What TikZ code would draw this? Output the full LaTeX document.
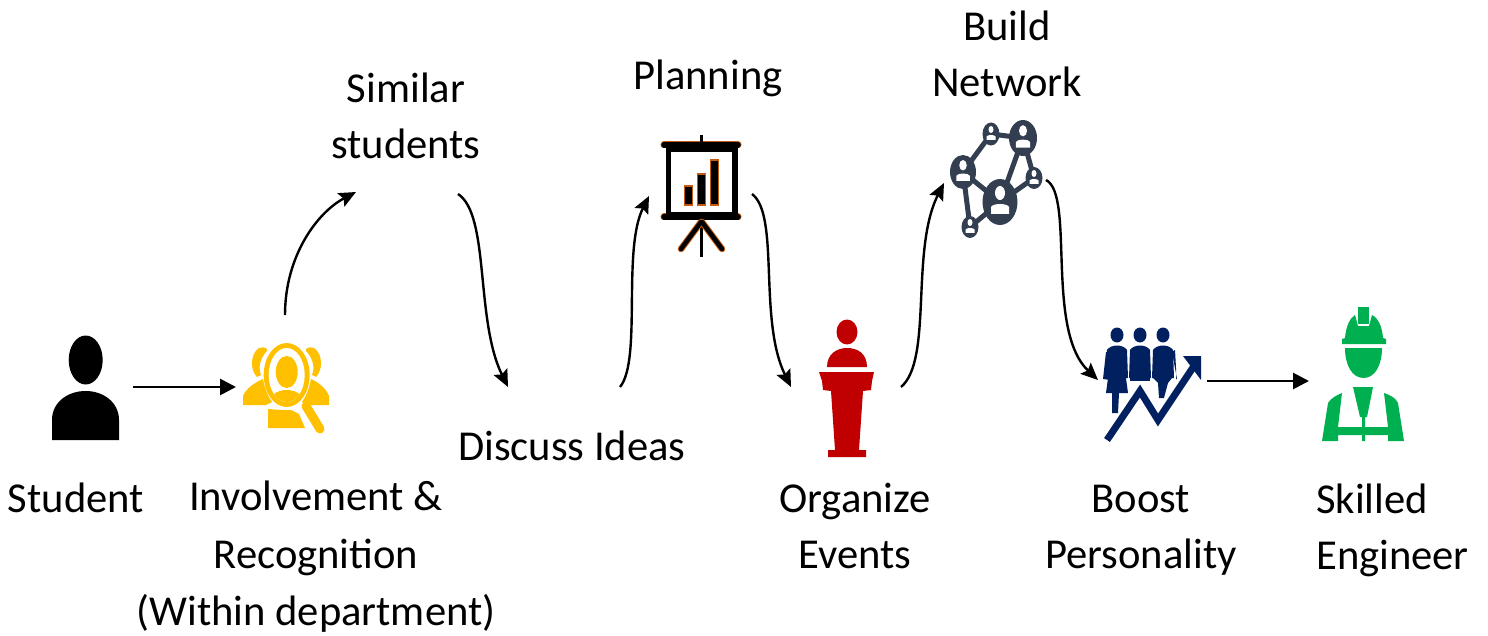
\documentclass[tikz,border=0pt]{standalone}
\usepackage{fontspec}
\setmainfont{Carlito}
\usetikzlibrary{arrows.meta}
\definecolor{gold}{HTML}{FFC000}
\definecolor{slatenet}{HTML}{333F50}
\definecolor{podium}{HTML}{C00000}
\definecolor{navyp}{HTML}{002060}
\definecolor{greenw}{HTML}{00B050}
\definecolor{orangeb}{HTML}{C55A11}
\tikzset{
 lbl/.style={font=\fontsize{42.6}{56}\selectfont,align=center,inner sep=0pt,text=black},
 lblwide/.style={font=\fontsize{42.6}{57.5}\selectfont,align=center,inner sep=0pt,text=black},
 lblleft/.style={font=\fontsize{42.6}{56}\selectfont,align=left,inner sep=0pt,text=black},
 conn/.style={line width=2.8pt,draw=black,-{Triangle[length=16pt,width=16pt]}},
 curv/.style={line width=2.4pt,draw=black,-{Stealth[length=17pt,width=15pt,inset=3pt]}},
}
\begin{document}
\begin{tikzpicture}[x=1pt,y=-1pt]
\useasboundingbox (0,0) rectangle (1488,636);
% labels
\node[lbl] (tStudent) at (76,498) {Student};
\node[lblwide] (tInv) at (316,557) {Involvement \&\\Recognition\\(Within department)};
\node[lbl] (tSim) at (406,116) {Similar\\students};
\node[lbl] (tDisc) at (572,446) {Discuss Ideas};
\node[lbl] (tPlan) at (708,78) {Planning};
\node[lbl] (tBuild) at (1007,54) {Build\\Network};
\node[lbl] (tOrg) at (855,526) {Organize\\Events};
\node[lbl] (tBoost) at (1141,530) {Boost\\Personality};
\node[lblleft,anchor=west] (tSkill) at (1316,530) {Skilled\\Engineer};
% student icon
\fill[black] (85.7,360) ellipse [x radius=17,y radius=24.5];
\fill[black] (52,440) -- (52,420) .. controls (52,402) and (68,391) .. (85.7,391) .. controls (103,391) and (119,402) .. (119,420) -- (119,440) -- cycle;
% search icon
\begin{scope}[gold]
\fill (259,348) .. controls (265,346) and (268,349) .. (267,351) .. controls (260,358) and (258,368) .. (261,375) -- (257,377) .. controls (250,370) and (250,354) .. (259,348) -- cycle;
\fill (314,348) .. controls (308,346) and (305,349) .. (306,351) .. controls (313,358) and (315,368) .. (312,375) -- (316,377) .. controls (323,370) and (323,354) .. (314,348) -- cycle;
\fill (243,405) -- (243,396) .. controls (246,388) and (256,382) .. (263,379) .. controls (265,390) and (268,396) .. (272,402) -- (266,405) -- cycle;
\fill (329,405) -- (329,396) .. controls (326,388) and (318,382) .. (311,379) .. controls (309,390) and (306,396) .. (302,402) -- (305,405) -- cycle;
\fill (286.7,375) ellipse [x radius=23,y radius=32];
\fill[white] (286.7,375) ellipse [x radius=18,y radius=27];
\fill (286.7,372) ellipse [x radius=11,y radius=16];
\begin{scope}
\clip (286.7,375) ellipse [x radius=18,y radius=27];
\fill (268,410) .. controls (268,396) and (276,390) .. (286.7,390) .. controls (297,390) and (306,396) .. (306,410) -- cycle;
\end{scope}
\fill (268,409) -- (268,428) -- (305,428) -- (299,414) -- (291,410) -- (282,410) -- cycle;
\draw[line width=9pt,line cap=round] (306,406) -- (320,429);
\end{scope}
% planning board
\begin{scope}
\draw[orangeb,line width=7pt,line cap=round] (664,145) -- (738,145);
\draw[orangeb,line width=7pt,line cap=round] (664,217) -- (738,217);
\fill[black] (666,143) rectangle (738,220);
\fill[white] (671,152) rectangle (732,212);
\draw[black,line width=5.5pt,line cap=round] (664,145) -- (738,145);
\draw[black,line width=5.5pt,line cap=round] (664,217) -- (738,217);
\draw[black,line width=3.5pt] (701.5,135) -- (701.5,144);
\draw[black,line width=3.5pt] (701.5,217) -- (701.5,257);
\draw[orangeb,line width=6.5pt,line cap=round] (701,222) -- (681,249);
\draw[orangeb,line width=6.5pt,line cap=round] (702,222) -- (722,249);
\draw[black,line width=4.5pt,line cap=round] (701,222) -- (681,249);
\draw[black,line width=4.5pt,line cap=round] (702,222) -- (722,249);
\draw[orangeb,line width=1.2pt,fill=black] (684.5,186) rectangle (692.5,205);
\draw[orangeb,line width=1.2pt,fill=black] (697.5,174) rectangle (705.5,205);
\draw[orangeb,line width=1.2pt,fill=black] (710.5,160) rectangle (718.5,205);
\end{scope}
% network
\begin{scope}[slatenet]
\coordinate (n1) at (991,134);
\coordinate (n2) at (1023,138);
\coordinate (n3) at (963,172);
\coordinate (n4) at (1000,202);
\coordinate (n5) at (1034,178);
\coordinate (n6) at (970,227);
\draw[line width=5pt] (n3) -- (n1) -- (n2) -- (n5) -- (n4) -- (n3) -- (n6) -- (n4) -- (n2);
\fill (n1) ellipse [x radius=8.5,y radius=11.5];
\fill (n2) ellipse [x radius=14,y radius=18];
\fill (n3) ellipse [x radius=13,y radius=17];
\fill (n4) ellipse [x radius=17.5,y radius=23];
\fill (n5) ellipse [x radius=8.5,y radius=11];
\fill (n6) ellipse [x radius=8.5,y radius=11];
\foreach \cx/\cy/\s in {991/134/0.5,1023/138/0.8,963/172/0.75,1000/202/1,1034/178/0.5,970/227/0.5}{
 \fill[white] (\cx,\cy-9*\s) ellipse [x radius=5*\s,y radius=7*\s];
 \fill[white] (\cx-9*\s,\cy+12*\s) -- (\cx-9*\s,\cy+5*\s) .. controls (\cx-7*\s,\cy+1*\s) and (\cx+7*\s,\cy+1*\s) .. (\cx+9*\s,\cy+5*\s) -- (\cx+9*\s,\cy+12*\s) -- cycle;
}
\end{scope}
% podium
\begin{scope}[podium]
\fill (847,332) ellipse [x radius=10.5,y radius=12.5];
\fill (827,367) .. controls (827,353) and (838,348) .. (847,348) .. controls (857,348) and (867,353) .. (867,367) -- cycle;
\fill (819,372) -- (874,372) -- (872,381) -- (871,390) -- (863,391) -- (859,450) -- (866,450) -- (866,457) -- (828,457) -- (828,450) -- (835,450) -- (831,391) -- (823,390) -- (822,381) -- cycle;
\end{scope}
% boost personality
\begin{scope}[navyp]
\foreach \px in {1117,1140,1163}{
 \fill (\px,335) ellipse [x radius=6.5,y radius=7.5];
 \fill (\px-10,350) .. controls (\px-6,344) and (\px+6,344) .. (\px+10,350) -- (\px+11,378) -- (\px-11,378) -- cycle;
}
\fill (1103,379) -- (1106,352) -- (1112,352) -- (1110,380) -- cycle;
\fill (1177,379) -- (1172,352) -- (1175,350) -- (1176,368) -- (1176,379) -- cycle;
% lower bodies
\fill (1108,378) -- (1126,378) -- (1128,393) -- (1119,393) -- (1118,413) -- (1112,413) -- (1112,393) -- (1106,393) -- cycle;
\fill (1130,378) -- (1150,378) -- (1150,381) -- (1130,381) -- cycle;
\fill (1153,378) -- (1172,378) -- (1168,383) -- (1164,398) -- (1159,398) -- (1158,383) -- cycle;
\end{scope}
\draw[white,line width=11pt] (1107,440) -- (1140,391) -- (1158,420) -- (1194,366);
\draw[navyp,line width=7pt] (1107,440) -- (1140,391) -- (1158,420) -- (1194,366);
\fill[navyp] (1183,356) -- (1201,356) -- (1201,380) -- cycle;
% engineer
\begin{scope}[greenw]
\fill (1342,344) -- (1342,339) -- (1345,338) .. controls (1346,326) and (1350,318) .. (1355,315) -- (1358,326) -- (1369,326) -- (1372,315) .. controls (1378,318) and (1382,326) .. (1383,338) -- (1386,339) -- (1386,344) -- cycle;
\fill (1358,307) -- (1369,307) -- (1369,324) -- (1358,324) -- cycle;
\fill (1345,348) -- (1382,348) .. controls (1382,365) and (1375,378) .. (1363.5,378) .. controls (1352,378) and (1345,365) .. (1345,348) -- cycle;
\fill (1353,387) -- (1373,387) -- (1367,417) -- (1365,417) -- (1365,441) -- (1362,441) -- (1362,417) -- (1360,417) -- cycle;
\fill (1322,441) -- (1328,403) .. controls (1331,398) and (1337,395) .. (1342,393) -- (1338,427) -- (1388,427) -- (1384,393) .. controls (1390,395) and (1396,398) .. (1398,403) -- (1404,441) -- (1388,441) -- (1388,435) -- (1338,435) -- (1338,441) -- cycle;
\end{scope}
% connector ends
\coordinate (s1) at (133,387); \coordinate (e1) at (236,387);
\coordinate (s2) at (285,315); \coordinate (e2) at (356,192);
\coordinate (s3) at (458,194); \coordinate (e3) at (508,387);
\coordinate (s4) at (620,387); \coordinate (e4) at (649,196);
\coordinate (s5) at (752,194); \coordinate (e5) at (791,387);
\coordinate (s6) at (901,387); \coordinate (e6) at (944,183);
\coordinate (s7) at (1046,180); \coordinate (e7) at (1098,380);
\coordinate (s8) at (1207,381); \coordinate (e8) at (1309,381);
\draw[conn] (s1) -- (e1);
\draw[conn] (s8) -- (e8);
\draw[curv] (s2) .. controls (285,255) and (318,212) .. (e2);
\draw[curv] (s3) .. controls (490,215) and (475,320) .. (e3);
\draw[curv] (s4) .. controls (642,360) and (622,250) .. (e4);
\draw[curv] (s5) .. controls (780,215) and (758,320) .. (e5);
\draw[curv] (s6) .. controls (933,360) and (910,250) .. (e6);
\draw[curv] (s7) .. controls (1075,195) and (1045,330) .. (e7);
\end{tikzpicture}
\end{document}
